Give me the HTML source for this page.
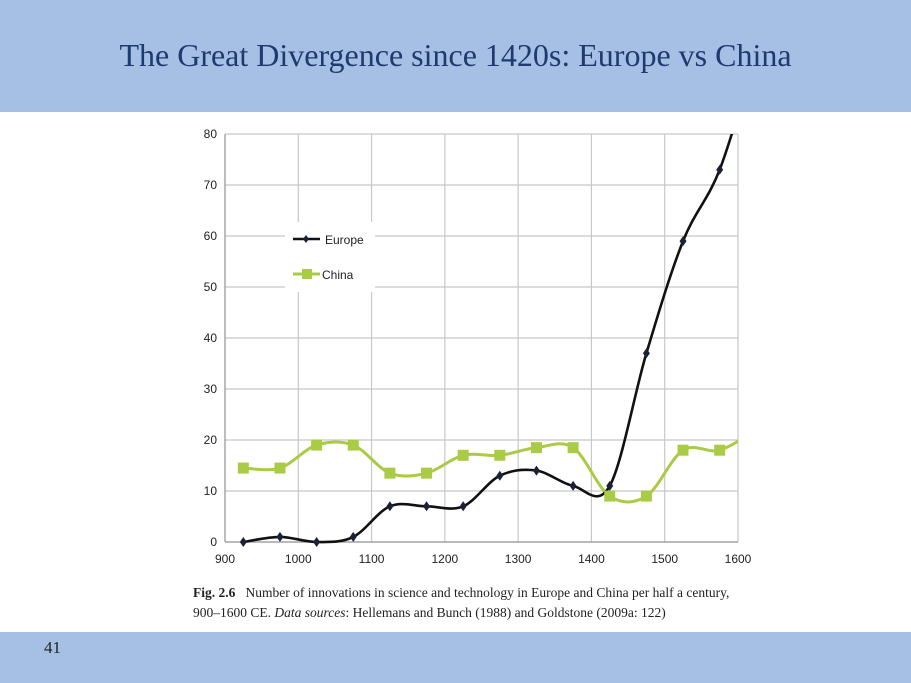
<!DOCTYPE html>
<html><head><meta charset="utf-8"><style>
body{margin:0;width:911px;height:683px;overflow:hidden;background:#fff;font-family:"Liberation Sans",sans-serif;position:relative}
#hdr{position:absolute;left:0;top:0;width:911px;height:112px;background:#a5bfe5}
#title{position:absolute;left:0;top:37px;width:911px;text-align:center;font-family:"Liberation Serif",serif;font-size:32px;color:#1f3a6e}
#ftr{position:absolute;left:0;top:632px;width:911px;height:51px;background:#a5bfe5}
#pn{position:absolute;left:44px;top:638px;font-family:"Liberation Serif",serif;font-size:17px;color:#222}
#cap{position:absolute;left:193px;top:583px;font-family:"Liberation Serif",serif;font-size:13.5px;line-height:20px;color:#222}
svg{position:absolute;left:0;top:0}
</style></head><body>
<div id="hdr"></div>
<div id="title">The Great Divergence since 1420s: Europe vs China</div>
<svg id="chart" width="911" height="683"></svg>
<div id="cap"><b>Fig. 2.6</b>&nbsp;&nbsp; Number of innovations in science and technology in Europe and China per half a century,<br>900–1600 CE. <i>Data sources</i>: Hellemans and Bunch (1988) and Goldstone (2009a: 122)</div>
<div id="ftr"></div>
<div id="pn">41</div>
<script>
const years=[925,975,1025,1075,1125,1175,1225,1275,1325,1375,1425,1475,1525,1575,1625];
const europe=[0,1,0,1,7,7,7,13,14,11,11,37,59,73,96];
const china=[14.5,14.5,19,19,13.5,13.5,17,17,18.5,18.5,9,9,18,18,22];
const xTicks=[900,1000,1100,1200,1300,1400,1500,1600];
const yTicks=[0,10,20,30,40,50,60,70,80];
const X0=225,X1=738,Y0=542,Y1=134;
const sx=v=>X0+(v-900)/700*(X1-X0);
const sy=v=>Y0-v/80*(Y0-Y1);
const svg=document.getElementById('chart');const NS='http://www.w3.org/2000/svg';
function mk(t,a,p){const e=document.createElementNS(NS,t);for(const k in a)e.setAttribute(k,a[k]);(p||svg).appendChild(e);return e;}
const defs=mk('defs',{});const cp=mk('clipPath',{id:'cp'},defs);mk('rect',{x:X0,y:Y1,width:X1-X0,height:Y0-Y1+12},cp);
yTicks.forEach(v=>{const g=mk('line',{x1:X0,x2:X1,y1:sy(v),y2:sy(v),stroke:'#c8c8c8','stroke-width':1.2});
const t=mk('text',{x:X0-8,y:sy(v)+4,'text-anchor':'end','font-size':12,fill:'#222'});t.textContent=v;});
xTicks.forEach(v=>{const g=mk('line',{x1:sx(v),x2:sx(v),y1:Y1,y2:Y0,stroke:'#c8c8c8','stroke-width':1.2});
const t=mk('text',{x:sx(v),y:Y0+21,'text-anchor':'middle','font-size':12,fill:'#222'});t.textContent=v;});
mk('line',{x1:X0,x2:X0,y1:Y1,y2:Y0,stroke:'#999','stroke-width':1.2});
mk('line',{x1:X0,x2:X1,y1:Y0,y2:Y0,stroke:'#999','stroke-width':1.2});
const lb=mk('rect',{x:285,y:222,width:90,height:70,fill:'#fff'});
function smooth(pts){let d='M'+pts[0][0]+','+pts[0][1];for(let i=0;i<pts.length-1;i++){const p0=pts[i-1]||pts[i],p1=pts[i],p2=pts[i+1],p3=pts[i+2]||p2;const t=1/6;d+=' C'+(p1[0]+(p2[0]-p0[0])*t)+','+(p1[1]+(p2[1]-p0[1])*t)+' '+(p2[0]-(p3[0]-p1[0])*t)+','+(p2[1]-(p3[1]-p1[1])*t)+' '+p2[0]+','+p2[1];}return d;}
const g=mk('g',{'clip-path':'url(#cp)'});
const cpts=years.map((y,i)=>[sx(y),sy(china[i])]);
const cl=mk('path',{d:smooth(cpts),fill:'none',stroke:'#a9cb45','stroke-width':3},g);
const epts=years.map((y,i)=>[sx(y),sy(europe[i])]);
const el=mk('path',{d:smooth(epts),fill:'none',stroke:'#111','stroke-width':2.6},g);
cpts.forEach(p=>{if(p[0]>X1)return;const r=mk('rect',{x:p[0]-5.5,y:p[1]-5.5,width:11,height:11,fill:'#a9cb45'},g);});
epts.forEach(p=>{if(p[0]>X1)return;const r=mk('path',{d:`M${p[0]},${p[1]-5} L${p[0]+3.5},${p[1]} L${p[0]},${p[1]+5} L${p[0]-3.5},${p[1]}Z`,fill:'#1a2238'},g);});
mk('line',{x1:293,x2:320,y1:239,y2:239,stroke:'#111','stroke-width':2.6});
mk('path',{d:'M306,235 L309,239 L306,243 L303,239Z',fill:'#1a2238'});
const t1=mk('text',{x:325,y:244,'font-size':12,fill:'#222'});t1.textContent='Europe';
mk('line',{x1:293,x2:320,y1:274,y2:274,stroke:'#a9cb45','stroke-width':3});
mk('rect',{x:302,y:269,width:10,height:10,fill:'#a9cb45'});
const t2=mk('text',{x:322,y:279,'font-size':12,fill:'#222'});t2.textContent='China';
</script>
</body></html>
